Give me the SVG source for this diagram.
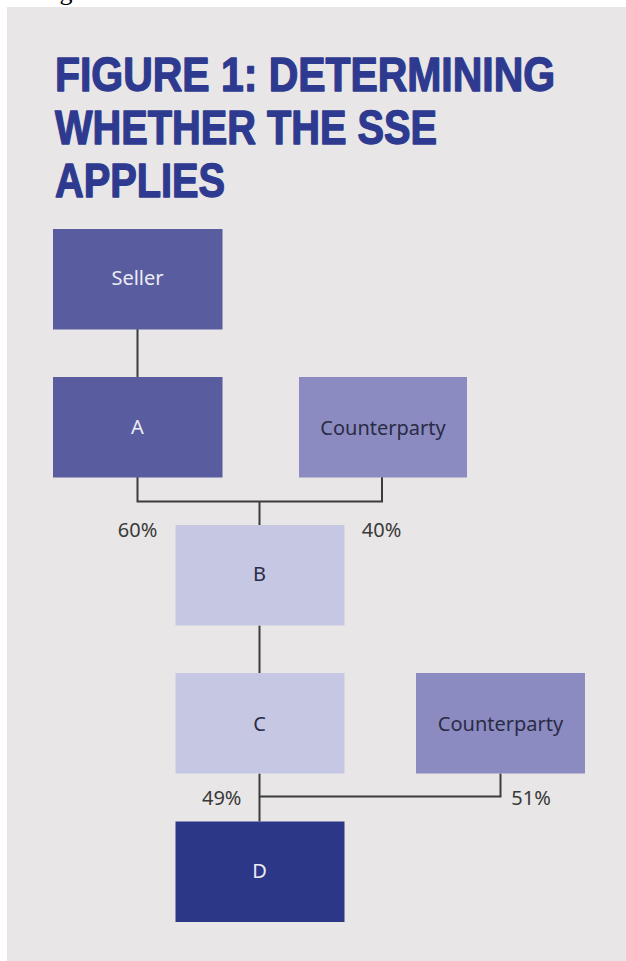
<svg xmlns="http://www.w3.org/2000/svg" width="626" height="961" viewBox="0 0 626 961">
  <style>
    .title { font-family: "Liberation Sans", Arial, sans-serif; font-weight: 700; font-size: 48px; fill: #2e3a8f; stroke: #2e3a8f; stroke-width: 1.4; stroke-linejoin: round; }
    .lbl { font-family: "Noto Sans", "Open Sans", sans-serif; font-size: 20px; text-anchor: middle; }
    .light { fill: #ececf6; }
    .dark { fill: #2a2b45; }
    .pct { font-family: "Noto Sans", "Open Sans", sans-serif; font-size: 20px; fill: #3a3a3a; text-anchor: middle; }
    .mid { fill: #5a5ca0; }
    .cp { fill: #8b8bc1; }
    .pale { fill: #c6c7e3; }
    .deep { fill: #2d3787; }
    .conn { fill: none; stroke: #3c3c3c; stroke-width: 2; }
  </style>

  <!-- page background and panel -->
  <rect x="0" y="0" width="626" height="961" fill="#ffffff"/>
  <text x="19" y="-0.5" font-family="'Liberation Serif', serif" font-size="26" fill="#000">Image</text>
  <rect x="7" y="7" width="619" height="954" fill="#e8e6e6"/>

  <!-- heading -->
  <g id="title">
    <text class="title" x="55" y="91" textLength="500" lengthAdjust="spacingAndGlyphs">FIGURE 1: DETERMINING</text>
    <text class="title" x="55" y="144" textLength="382" lengthAdjust="spacingAndGlyphs">WHETHER THE SSE</text>
    <text class="title" x="55" y="197" textLength="170" lengthAdjust="spacingAndGlyphs">APPLIES</text>
  </g>

  <!-- ownership connectors -->
  <g id="connectors">
    <path class="conn" d="M137.5 329 V377"/>
    <path class="conn" d="M137.5 477 V501.5 H382 V477"/>
    <path class="conn" d="M259.5 501.5 V525"/>
    <path class="conn" d="M259.5 625.5 V673"/>
    <path class="conn" d="M259.5 773.5 V821.5"/>
    <path class="conn" d="M259.5 796.5 H500.5 V773.5"/>
  </g>

  <!-- percentages -->
  <g id="percentages">
    <text class="pct" x="137.5" y="537">60%</text>
    <text class="pct" x="381.5" y="537">40%</text>
    <text class="pct" x="221.7" y="805">49%</text>
    <text class="pct" x="531" y="805">51%</text>
  </g>

  <g id="node-seller">
    <rect class="mid" x="53" y="229" width="169.5" height="100.5"/>
    <text class="lbl light" x="137.5" y="285">Seller</text>
  </g>
  <g id="node-a">
    <rect class="mid" x="53" y="377" width="169.5" height="100.5"/>
    <text class="lbl light" x="137.5" y="434">A</text>
  </g>
  <g id="node-counterparty-1">
    <rect class="cp" x="299" y="377" width="168" height="100.5"/>
    <text class="lbl dark" x="383" y="435">Counterparty</text>
  </g>
  <g id="node-b">
    <rect class="pale" x="175.5" y="525" width="169" height="100.5"/>
    <text class="lbl dark" x="259.5" y="581">B</text>
  </g>
  <g id="node-c">
    <rect class="pale" x="175.5" y="673" width="169" height="100.5"/>
    <text class="lbl dark" x="259.5" y="731">C</text>
  </g>
  <g id="node-counterparty-2">
    <rect class="cp" x="416" y="673" width="169" height="100.5"/>
    <text class="lbl dark" x="500.5" y="731">Counterparty</text>
  </g>
  <g id="node-d">
    <rect class="deep" x="175.5" y="821.5" width="169" height="100.5"/>
    <text class="lbl light" x="259.5" y="878">D</text>
  </g>
</svg>
